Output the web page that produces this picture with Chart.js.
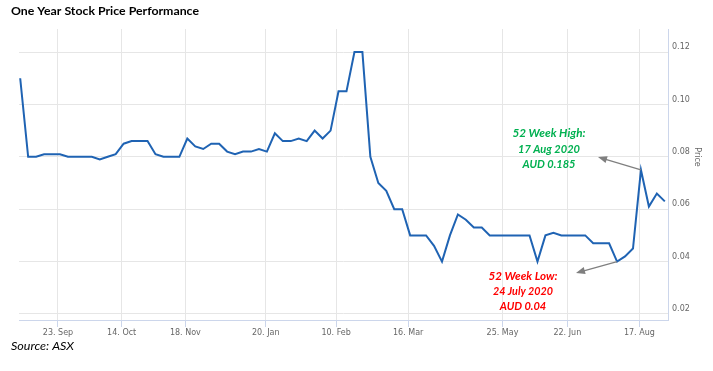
<!DOCTYPE html>
<html>
<head>
<meta charset="utf-8">
<title>One Year Stock Price Performance</title>
<script src="https://cdn.jsdelivr.net/npm/chart.js@4.4.1/dist/chart.umd.min.js"></script>
<style>
  html, body { margin: 0; padding: 0; background: #fff; }
  #wrap { position: relative; width: 713px; height: 371px; }
</style>
</head>
<body>
<div id="wrap"><canvas id="chartPrice" width="713" height="371"></canvas></div>
<script>
// weekly closing price (AUD), one point per trading week
const prices = [
  0.110, 0.080, 0.080, 0.081, 0.081, 0.081, 0.080, 0.080, 0.080, 0.080,
  0.079, 0.080, 0.081, 0.085, 0.086, 0.086, 0.086, 0.081, 0.080, 0.080,
  0.080, 0.087, 0.084, 0.083, 0.085, 0.085, 0.082, 0.081, 0.082, 0.082,
  0.083, 0.082, 0.089, 0.086, 0.086, 0.087, 0.086, 0.090, 0.087, 0.090,
  0.105, 0.105, 0.120, 0.120, 0.080, 0.070, 0.067, 0.060, 0.060, 0.050,
  0.050, 0.050, 0.046, 0.040, 0.050, 0.058, 0.056, 0.053, 0.053, 0.050,
  0.050, 0.050, 0.050, 0.050, 0.050, 0.040, 0.050, 0.051, 0.050, 0.050,
  0.050, 0.050, 0.047, 0.047, 0.047, 0.040, 0.042, 0.045, 0.075, 0.061,
  0.066, 0.063
];

// where the date labels fall along the week index
const tickAt = [4.75, 12.75, 20.75, 30.85, 39.7, 48.75, 60.6, 68.75, 77.8];
const tickLabels = ['23. Sep', '14. Oct', '18. Nov', '20. Jan', '10. Feb', '16. Mar', '25. May', '22. Jun', '17. Aug'];
const priceTicks = [0.02, 0.04, 0.06, 0.08, 0.10, 0.12];

const highIdx = 78;
const lowIdx = 75;
const highNote = ['52 Week High:', '17 Aug 2020', 'AUD 0.185'];
const lowNote = ['52 Week Low:', '24 July 2020', 'AUD 0.04'];

const tickFont = { family: '"DejaVu Sans", Verdana, sans-serif', size: 8 };
const noteFont = 'Lato, "Open Sans", sans-serif';

// draw text and squeeze it to the width it has in the original
function fitText(ctx, text, x, y, font, color, width, align) {
  ctx.save();
  ctx.font = font;
  ctx.fillStyle = color;
  ctx.textBaseline = 'alphabetic';
  ctx.textAlign = 'left';
  const w = ctx.measureText(text).width;
  const k = width ? width / w : 1;
  ctx.translate(x, y);
  ctx.scale(k, 1);
  ctx.fillText(text, align === 'center' ? -w / 2 : 0, 0);
  ctx.restore();
}

function arrow(ctx, x1, y1, x2, y2) {
  const a = Math.atan2(y2 - y1, x2 - x1);
  const len = 9, half = 3.6;
  ctx.save();
  ctx.strokeStyle = '#7f7f7f';
  ctx.fillStyle = '#7f7f7f';
  ctx.lineWidth = 1.2;
  ctx.beginPath();
  ctx.moveTo(x1, y1);
  ctx.lineTo(x2 - Math.cos(a) * len * 0.8, y2 - Math.sin(a) * len * 0.8);
  ctx.stroke();
  ctx.beginPath();
  ctx.moveTo(x2, y2);
  ctx.lineTo(x2 - Math.cos(a) * len - Math.sin(a) * half, y2 - Math.sin(a) * len + Math.cos(a) * half);
  ctx.lineTo(x2 - Math.cos(a) * len + Math.sin(a) * half, y2 - Math.sin(a) * len - Math.cos(a) * half);
  ctx.closePath();
  ctx.fill();
  ctx.restore();
}

const notesPlugin = {
  id: 'notes',
  afterDraw(chart) {
    const { ctx } = chart;
    const x = chart.scales.x;
    const y = chart.scales.y;

    fitText(ctx, 'One Year Stock Price Performance', 11, 15, 'bold 12px ' + noteFont, '#000', 188);
    fitText(ctx, 'Source: ASX', 11, 350, 'italic 12px ' + noteFont, '#000', 63);

    // axis title, reading top to bottom
    ctx.save();
    ctx.translate(697, 157);
    ctx.rotate(Math.PI / 2);
    ctx.font = '8px ' + tickFont.family;
    ctx.fillStyle = '#666';
    ctx.textAlign = 'center';
    ctx.textBaseline = 'middle';
    ctx.fillText('Price', 0, 0);
    ctx.restore();

    const green = '#00b050';
    const hiWidths = [73, 62, 53];
    highNote.forEach((t, i) => {
      fitText(ctx, t, 549, 137 + i * 15.5, 'italic bold 12px ' + noteFont, green, hiWidths[i], 'center');
    });
    const loWidths = [69, 60, 46.5];
    lowNote.forEach((t, i) => {
      fitText(ctx, t, 523, 279.5 + i * 15.3, 'italic bold 12px ' + noteFont, '#ff0000', loWidths[i], 'center');
    });

    arrow(ctx, x.getPixelForValue(highIdx), y.getPixelForValue(prices[highIdx]), 598, 157);
    arrow(ctx, x.getPixelForValue(lowIdx), y.getPixelForValue(prices[lowIdx]), 576, 273);
  },
};

new Chart(document.getElementById('chartPrice'), {
  type: 'line',
  data: {
    datasets: [{
      label: 'Price',
      data: prices.map((v, i) => ({ x: i, y: v })),
      borderColor: '#1f63b3',
      borderWidth: 2,
      pointRadius: 0,
      tension: 0,
      fill: false,
    }],
  },
  options: {
    responsive: false,
    devicePixelRatio: 1,
    animation: false,
    layout: { padding: { left: 19, top: 29, right: 0, bottom: 0 } },
    plugins: {
      legend: { display: false },
      tooltip: { enabled: false },
    },
    scales: {
      x: {
        type: 'linear',
        min: -0.15,
        max: 81.4,
        afterBuildTicks: (s) => { s.ticks = tickAt.map((v) => ({ value: v })); },
        afterFit: (s) => { s.height = 51; },
        ticks: {
          callback: (v, i) => tickLabels[i],
          color: '#666',
          font: tickFont,
          autoSkip: false,
          maxRotation: 0,
          padding: 1,
        },
        grid: { color: '#e6e6e6', tickColor: '#ccd6eb', tickLength: 7 },
        border: { color: '#ccd6eb' },
      },
      y: {
        position: 'right',
        min: 0.0177,
        max: 0.1288,
        afterBuildTicks: (s) => { s.ticks = priceTicks.map((v) => ({ value: v })); },
        afterFit: (s) => { s.width = 45; },
        ticks: {
          callback: (v) => v.toFixed(2),
          color: '#666',
          font: tickFont,
          padding: 4,
          labelOffset: -5,
        },
        grid: { color: '#e6e6e6', drawTicks: false },
        border: { color: '#ccd6eb' },
      },
    },
  },
  plugins: [notesPlugin],
});
</script>
</body>
</html>
